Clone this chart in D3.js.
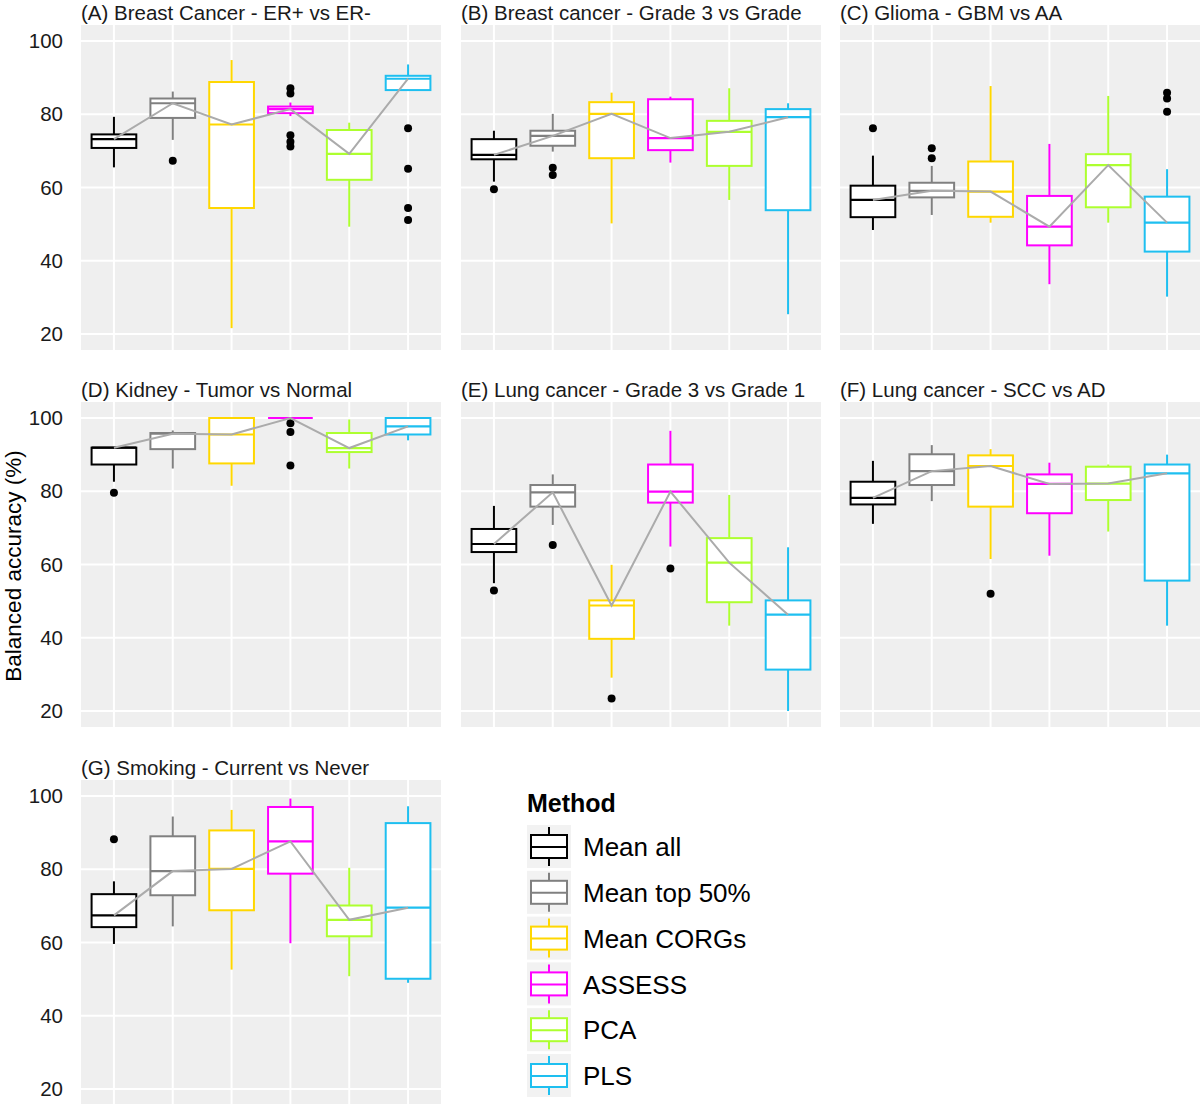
<!DOCTYPE html>
<html>
<head>
<meta charset="utf-8">
<script src="https://cdn.jsdelivr.net/npm/d3@7"></script>
<style>
  html, body { margin: 0; padding: 0; background: #ffffff; }
  svg { display: block; font-family: "Liberation Sans", Arial, sans-serif; }
</style>
</head>
<body>
<svg id="chart" width="1200" height="1104"></svg>
<script>
// ---------------- data ----------------
const methods = ["Mean all", "Mean top 50%", "Mean CORGs", "ASSESS", "PCA", "PLS"];
const palette = ["#000000", "#808080", "#FFD700", "#FF00FF", "#ADFF2F", "#1EBFF0"];
const panelTitles = [
  "(A) Breast Cancer - ER+ vs ER-",
  "(B) Breast cancer - Grade 3 vs Grade",
  "(C) Glioma - GBM vs AA",
  "(D) Kidney - Tumor vs Normal",
  "(E) Lung cancer - Grade 3 vs Grade 1",
  "(F) Lung cancer - SCC vs AD",
  "(G) Smoking - Current vs Never"
];
const yTicks = [20, 40, 60, 80, 100];

// per panel (A..G), per method (6 values)
const lowerWhisker = [
  [65.5, 73.0, 21.6, 79.5, 49.3, 86.6],
  [61.6, 69.8, 50.2, 66.8, 56.6, 25.4],
  [48.4, 52.5, 50.4, 33.6, 50.4, 30.2],
  [82.6, 86.2, 81.5, 100.0, 86.2, 93.9],
  [54.9, 70.8, 29.1, 64.9, 43.3, 20.0],
  [71.1, 77.3, 61.5, 62.4, 69.0, 43.3],
  [59.6, 64.4, 52.6, 59.8, 50.8, 49.0]
];
const q1 = [
  [70.8, 79.0, 54.4, 80.3, 62.1, 86.6],
  [67.7, 71.4, 68.0, 70.2, 65.9, 53.8],
  [51.9, 57.3, 52.0, 44.2, 54.6, 42.5],
  [87.3, 91.5, 87.6, 100.0, 90.7, 95.5],
  [63.4, 75.8, 39.7, 76.9, 49.7, 31.3],
  [76.4, 81.7, 75.8, 74.0, 77.6, 55.6],
  [64.2, 72.9, 68.8, 78.8, 61.7, 50.1]
];
const medians = [
  [73.2, 83.0, 77.2, 81.4, 69.2, 89.7],
  [68.9, 74.1, 80.1, 73.5, 75.2, 79.2],
  [56.6, 59.1, 58.9, 49.3, 66.1, 50.4],
  [91.9, 95.7, 95.5, 100.0, 91.8, 97.7],
  [65.6, 79.7, 48.8, 79.9, 60.5, 46.3],
  [78.2, 85.5, 86.9, 82.0, 82.1, 84.9],
  [67.4, 79.5, 80.1, 87.6, 66.2, 69.5]
];
const q3 = [
  [74.5, 84.3, 88.8, 82.1, 75.7, 90.5],
  [73.2, 75.5, 83.3, 84.1, 78.2, 81.4],
  [60.5, 61.3, 67.1, 57.7, 69.1, 57.5],
  [91.9, 95.9, 100.0, 100.0, 95.9, 100.0],
  [69.7, 81.7, 50.2, 87.3, 67.2, 50.2],
  [82.6, 90.1, 89.8, 84.6, 86.7, 87.3],
  [73.2, 89.0, 90.6, 97.0, 70.1, 92.6]
];
const upperWhisker = [
  [79.3, 86.2, 94.8, 83.2, 77.7, 93.6],
  [75.5, 80.1, 85.9, 84.8, 87.1, 83.0],
  [68.7, 65.9, 87.7, 71.9, 85.0, 65.0],
  [91.9, 96.6, 100.0, 100.0, 99.6, 100.0],
  [76.0, 84.6, 59.9, 96.5, 79.0, 64.7],
  [88.3, 92.6, 91.5, 87.8, 87.3, 90.0],
  [76.7, 94.4, 96.2, 99.3, 80.4, 97.2]
];
const outliers = [
  [[], [67.3], [], [87.1, 85.7, 74.3, 72.5, 71.2], [], [76.2, 65.1, 54.4, 51.1]],
  [[59.5], [65.4, 63.4], [], [], [], []],
  [[76.2], [70.7, 68.0], [], [], [], [85.9, 84.3, 80.7]],
  [[79.6], [], [], [98.6, 96.2, 87.0], [], []],
  [[52.9], [65.3], [23.4], [58.9], [], []],
  [[], [], [52.0], [], [], []],
  [[88.2], [], [], [], [], []]
];

// ---------------- layout ----------------
const svg = d3.select("#chart");
const colX = [81, 461, 840];
const rowY = [25, 402, 780];
const panelW = 360, panelH = 325;
const bg = "#EFEFEF";

panelTitles.forEach((title, p) => {
  const col = p % 3, row = Math.floor(p / 3);
  const x0 = colX[col], y0 = rowY[row];
  const x = d3.scaleLinear().domain([0.44, 6.56]).range([x0, x0 + panelW]);
  const y = d3.scaleLinear().domain([15.63, 104.37]).range([y0 + panelH, y0]);
  const g = svg.append("g");

  g.append("rect").attr("x", x0).attr("y", y0).attr("width", panelW).attr("height", panelH).attr("fill", bg);
  g.selectAll("line.hg").data(yTicks).join("line")
    .attr("x1", x0).attr("x2", x0 + panelW)
    .attr("y1", d => y(d)).attr("y2", d => y(d))
    .attr("stroke", "#fff").attr("stroke-width", 2);
  g.selectAll("line.vg").data(methods).join("line")
    .attr("x1", (d, i) => x(i + 1)).attr("x2", (d, i) => x(i + 1))
    .attr("y1", y0).attr("y2", y0 + panelH)
    .attr("stroke", "#fff").attr("stroke-width", 2);

  g.append("text").attr("x", x0).attr("y", y0 - 5)
    .attr("font-size", 20.5).attr("fill", "#1a1a1a").text(title);

  if (col === 0) {
    const ax = g.append("g").attr("transform", `translate(${x0},0)`)
      .call(d3.axisLeft(y).tickValues(yTicks).tickSize(0).tickPadding(18));
    ax.select(".domain").remove();
    ax.selectAll("text").attr("font-size", 20.5).attr("fill", "#1a1a1a")
      .attr("font-family", "Liberation Sans, Arial, sans-serif");
  }

  const half = (x(1.38) - x(0.62)) / 2;
  methods.forEach((m, i) => {
    const cx = x(i + 1), c = palette[i];
    const bx = g.append("g");
    bx.append("line").attr("x1", cx).attr("x2", cx)
      .attr("y1", y(q3[p][i])).attr("y2", y(upperWhisker[p][i]))
      .attr("stroke", c).attr("stroke-width", 2);
    bx.append("line").attr("x1", cx).attr("x2", cx)
      .attr("y1", y(q1[p][i])).attr("y2", y(lowerWhisker[p][i]))
      .attr("stroke", c).attr("stroke-width", 2);
    bx.append("rect").attr("x", cx - half).attr("width", 2 * half)
      .attr("y", y(q3[p][i])).attr("height", Math.max(0, y(q1[p][i]) - y(q3[p][i])))
      .attr("fill", "#fff").attr("stroke", c).attr("stroke-width", 2);
    bx.append("line").attr("x1", cx - half).attr("x2", cx + half)
      .attr("y1", y(medians[p][i])).attr("y2", y(medians[p][i]))
      .attr("stroke", c).attr("stroke-width", 2.2);
    bx.selectAll("circle").data(outliers[p][i]).join("circle")
      .attr("cx", cx).attr("cy", d => y(d)).attr("r", 4).attr("fill", "#000");
  });

  const line = d3.line().x((d, i) => x(i + 1)).y(d => y(d));
  g.append("path").datum(medians[p]).attr("d", line)
    .attr("fill", "none").attr("stroke", "#ABABAB").attr("stroke-width", 2);
});

// y-axis title
svg.append("text").attr("transform", "translate(21,566) rotate(-90)")
  .attr("text-anchor", "middle").attr("font-size", 22.5).attr("fill", "#000")
  .text("Balanced accuracy (%)");

// ---------------- legend ----------------
const lg = svg.append("g");
lg.append("text").attr("x", 527).attr("y", 812).attr("font-size", 25)
  .attr("font-weight", "bold").text("Method");
methods.forEach((m, i) => {
  const top = 825 + i * 45.8, left = 527, size = 44;
  const c = palette[i], cx = left + size / 2;
  lg.append("rect").attr("x", left).attr("y", top).attr("width", size).attr("height", size - 1).attr("fill", "#F2F2F2");
  lg.append("line").attr("x1", cx).attr("x2", cx).attr("y1", top + 2).attr("y2", top + 41).attr("stroke", c).attr("stroke-width", 2);
  lg.append("rect").attr("x", left + 4).attr("y", top + 10).attr("width", size - 8).attr("height", 23)
    .attr("fill", "#fff").attr("stroke", c).attr("stroke-width", 2);
  lg.append("line").attr("x1", left + 4).attr("x2", left + size - 4).attr("y1", top + 22).attr("y2", top + 22)
    .attr("stroke", c).attr("stroke-width", 2);
  lg.append("text").attr("x", 583).attr("y", top + 22).attr("dy", "0.35em")
    .attr("font-size", 26).attr("fill", "#000").text(m);
});
</script>
</body>
</html>
